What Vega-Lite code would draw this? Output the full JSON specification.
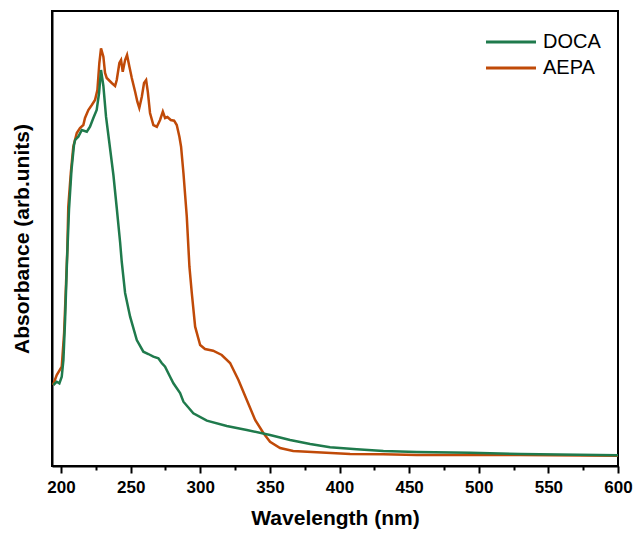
{
  "$schema": "https://vega.github.io/schema/vega-lite/v6.json",
  "width": 566,
  "height": 455,
  "autosize": {"type": "none"},
  "padding": {"left": 52, "top": 11, "right": 17, "bottom": 69},
  "background": "white",
  "config": {
    "font": "Liberation Sans",
    "view": {"stroke": "black", "strokeWidth": 2},
    "axis": {"grid": false, "domainColor": "black", "domainWidth": 2, "tickColor": "black", "tickWidth": 2, "labelColor": "black", "titleColor": "black"}
  },
  "data": {"values": [
    {"w": 194.25, "a": 81, "s": "AEPA"},
    {"w": 196.9, "a": 91, "s": "AEPA"},
    {"w": 200.5, "a": 99.3, "s": "AEPA"},
    {"w": 202.2, "a": 133, "s": "AEPA"},
    {"w": 203.6, "a": 183, "s": "AEPA"},
    {"w": 204.5, "a": 216, "s": "AEPA"},
    {"w": 205.2, "a": 259.3, "s": "AEPA"},
    {"w": 207.0, "a": 293, "s": "AEPA"},
    {"w": 208.8, "a": 319.3, "s": "AEPA"},
    {"w": 211.3, "a": 333, "s": "AEPA"},
    {"w": 213.6, "a": 338, "s": "AEPA"},
    {"w": 216.0, "a": 341, "s": "AEPA"},
    {"w": 217.2, "a": 348, "s": "AEPA"},
    {"w": 219.6, "a": 356, "s": "AEPA"},
    {"w": 222.1, "a": 361, "s": "AEPA"},
    {"w": 224.4, "a": 366, "s": "AEPA"},
    {"w": 226.1, "a": 376, "s": "AEPA"},
    {"w": 227.5, "a": 403, "s": "AEPA"},
    {"w": 228.7, "a": 417.7, "s": "AEPA"},
    {"w": 230.4, "a": 409.3, "s": "AEPA"},
    {"w": 231.6, "a": 393, "s": "AEPA"},
    {"w": 232.8, "a": 388, "s": "AEPA"},
    {"w": 236.4, "a": 383, "s": "AEPA"},
    {"w": 238.8, "a": 380, "s": "AEPA"},
    {"w": 240.0, "a": 386, "s": "AEPA"},
    {"w": 241.9, "a": 403, "s": "AEPA"},
    {"w": 243.1, "a": 406, "s": "AEPA"},
    {"w": 244.3, "a": 394.3, "s": "AEPA"},
    {"w": 246.0, "a": 406, "s": "AEPA"},
    {"w": 247.4, "a": 411, "s": "AEPA"},
    {"w": 249.1, "a": 399.3, "s": "AEPA"},
    {"w": 250.8, "a": 388, "s": "AEPA"},
    {"w": 253.2, "a": 374.3, "s": "AEPA"},
    {"w": 254.8, "a": 364.3, "s": "AEPA"},
    {"w": 256.2, "a": 358, "s": "AEPA"},
    {"w": 258.0, "a": 369.3, "s": "AEPA"},
    {"w": 259.6, "a": 383, "s": "AEPA"},
    {"w": 261.1, "a": 386, "s": "AEPA"},
    {"w": 262.3, "a": 374.3, "s": "AEPA"},
    {"w": 263.9, "a": 353, "s": "AEPA"},
    {"w": 266.3, "a": 341, "s": "AEPA"},
    {"w": 268.8, "a": 339.3, "s": "AEPA"},
    {"w": 271.1, "a": 346, "s": "AEPA"},
    {"w": 273.1, "a": 354.3, "s": "AEPA"},
    {"w": 274.7, "a": 348, "s": "AEPA"},
    {"w": 276.4, "a": 349, "s": "AEPA"},
    {"w": 278.8, "a": 346, "s": "AEPA"},
    {"w": 281.2, "a": 345.3, "s": "AEPA"},
    {"w": 283.1, "a": 341, "s": "AEPA"},
    {"w": 285.0, "a": 329.3, "s": "AEPA"},
    {"w": 286.2, "a": 319.3, "s": "AEPA"},
    {"w": 287.9, "a": 293, "s": "AEPA"},
    {"w": 290.3, "a": 249.3, "s": "AEPA"},
    {"w": 292.2, "a": 199.3, "s": "AEPA"},
    {"w": 293.9, "a": 173, "s": "AEPA"},
    {"w": 296.3, "a": 139.3, "s": "AEPA"},
    {"w": 299.9, "a": 121, "s": "AEPA"},
    {"w": 303.4, "a": 117, "s": "AEPA"},
    {"w": 309.2, "a": 115.3, "s": "AEPA"},
    {"w": 315.4, "a": 111, "s": "AEPA"},
    {"w": 321.4, "a": 103, "s": "AEPA"},
    {"w": 327.4, "a": 86, "s": "AEPA"},
    {"w": 333.4, "a": 66, "s": "AEPA"},
    {"w": 339.4, "a": 46, "s": "AEPA"},
    {"w": 345.3, "a": 33, "s": "AEPA"},
    {"w": 350.1, "a": 24.3, "s": "AEPA"},
    {"w": 357.3, "a": 18, "s": "AEPA"},
    {"w": 366.7, "a": 15, "s": "AEPA"},
    {"w": 383.7, "a": 13.7, "s": "AEPA"},
    {"w": 407.6, "a": 12, "s": "AEPA"},
    {"w": 431.3, "a": 11.7, "s": "AEPA"},
    {"w": 455.5, "a": 11, "s": "AEPA"},
    {"w": 493.8, "a": 11, "s": "AEPA"},
    {"w": 529.7, "a": 11, "s": "AEPA"},
    {"w": 600, "a": 10.3, "s": "AEPA"},
    {"w": 194.5, "a": 81, "s": "DOCA"},
    {"w": 196.9, "a": 84.3, "s": "DOCA"},
    {"w": 198.8, "a": 82.7, "s": "DOCA"},
    {"w": 200.5, "a": 89.3, "s": "DOCA"},
    {"w": 201.7, "a": 106, "s": "DOCA"},
    {"w": 202.9, "a": 146, "s": "DOCA"},
    {"w": 204.3, "a": 206, "s": "DOCA"},
    {"w": 205.7, "a": 256, "s": "DOCA"},
    {"w": 207.5, "a": 296, "s": "DOCA"},
    {"w": 209.3, "a": 321, "s": "DOCA"},
    {"w": 210.1, "a": 326, "s": "DOCA"},
    {"w": 212.4, "a": 329.3, "s": "DOCA"},
    {"w": 214.9, "a": 336, "s": "DOCA"},
    {"w": 218.5, "a": 334.3, "s": "DOCA"},
    {"w": 220.8, "a": 339.3, "s": "DOCA"},
    {"w": 223.2, "a": 348, "s": "DOCA"},
    {"w": 225.6, "a": 356, "s": "DOCA"},
    {"w": 227.3, "a": 373, "s": "DOCA"},
    {"w": 228.7, "a": 396, "s": "DOCA"},
    {"w": 230.4, "a": 380, "s": "DOCA"},
    {"w": 232.3, "a": 349.3, "s": "DOCA"},
    {"w": 234.7, "a": 323, "s": "DOCA"},
    {"w": 237.6, "a": 291, "s": "DOCA"},
    {"w": 240.0, "a": 258, "s": "DOCA"},
    {"w": 242.4, "a": 224, "s": "DOCA"},
    {"w": 243.6, "a": 204, "s": "DOCA"},
    {"w": 246.0, "a": 173, "s": "DOCA"},
    {"w": 249.6, "a": 149.3, "s": "DOCA"},
    {"w": 254.4, "a": 126, "s": "DOCA"},
    {"w": 259.1, "a": 114.3, "s": "DOCA"},
    {"w": 262.7, "a": 112, "s": "DOCA"},
    {"w": 266.3, "a": 109.3, "s": "DOCA"},
    {"w": 269.9, "a": 107.7, "s": "DOCA"},
    {"w": 272.3, "a": 103, "s": "DOCA"},
    {"w": 274.7, "a": 99.3, "s": "DOCA"},
    {"w": 278.3, "a": 89.3, "s": "DOCA"},
    {"w": 280.7, "a": 82.7, "s": "DOCA"},
    {"w": 285.5, "a": 73, "s": "DOCA"},
    {"w": 287.9, "a": 64.3, "s": "DOCA"},
    {"w": 295.0, "a": 52.7, "s": "DOCA"},
    {"w": 304.7, "a": 45.3, "s": "DOCA"},
    {"w": 319.0, "a": 40, "s": "DOCA"},
    {"w": 333.4, "a": 36, "s": "DOCA"},
    {"w": 350.1, "a": 31, "s": "DOCA"},
    {"w": 364.5, "a": 26, "s": "DOCA"},
    {"w": 378.9, "a": 22, "s": "DOCA"},
    {"w": 393.2, "a": 18.7, "s": "DOCA"},
    {"w": 412.4, "a": 16.7, "s": "DOCA"},
    {"w": 431.5, "a": 15, "s": "DOCA"},
    {"w": 455.5, "a": 14, "s": "DOCA"},
    {"w": 493.8, "a": 13.3, "s": "DOCA"},
    {"w": 529.7, "a": 12, "s": "DOCA"},
    {"w": 600, "a": 10.7, "s": "DOCA"}
  ]},
  "mark": {"type": "line", "strokeWidth": 2.5, "clip": true},
  "encoding": {
    "x": {"field": "w", "type": "quantitative",
          "scale": {"domain": [193.5, 600], "nice": false, "zero": false},
          "axis": {"values": [200, 225, 250, 275, 300, 325, 350, 375, 400, 425, 450, 475, 500, 525, 550, 575, 600],
                   "labelExpr": "datum.value % 50 === 0 ? datum.label : ''",
                   "tickSize": {"condition": {"test": "datum.value % 50 === 0", "value": 7}, "value": 4},
                   "labelFontSize": 17, "labelFontWeight": "bold", "labelPadding": 6, "labelFlush": false, "labelOverlap": false,
                   "title": "Wavelength (nm)", "titleFontSize": 21, "titleFontWeight": "bold", "titlePadding": 12}},
    "y": {"field": "a", "type": "quantitative",
          "scale": {"domain": [0, 455], "nice": false, "zero": false},
          "axis": {"labels": false, "ticks": false, "title": "Absorbance (arb.units)", "titleFontSize": 21, "titleFontWeight": "bold", "titlePadding": 20}},
    "color": {"field": "s", "type": "nominal",
              "scale": {"domain": ["DOCA", "AEPA"], "range": ["#1f7a4c", "#c04a08"]},
              "legend": {"title": null, "orient": "none", "legendX": 449, "legendY": 21, "symbolType": "M-5,0H5", "symbolSize": 100, "symbolStrokeWidth": 3, "labelFontSize": 20, "labelFont": "Liberation Sans", "labelColor": "black", "labelOffset": 22, "rowPadding": 6, "padding": 0}},
    "order": {"field": "w", "type": "quantitative"}
  }
}
